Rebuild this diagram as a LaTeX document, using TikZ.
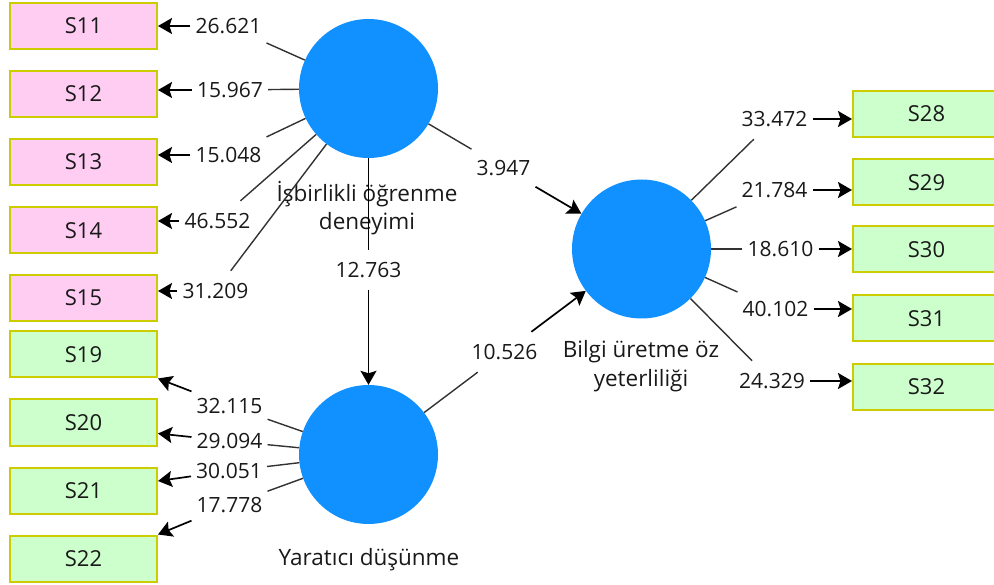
\documentclass[tikz,border=0pt]{standalone}
\usepackage{fontspec}
\setmainfont{Open Sans}
\usetikzlibrary{arrows.meta}

\definecolor{lvblue}{RGB}{17,145,255}
\definecolor{pinkfill}{RGB}{255,204,242}
\definecolor{greenfill}{RGB}{204,255,204}
\definecolor{boxedge}{RGB}{204,204,0}
\definecolor{pathgray}{RGB}{50,50,50}
\definecolor{txt}{RGB}{25,25,25}

\begin{document}
\begin{tikzpicture}[x=1pt,y=-1pt,
  font=\fontsize{21}{28}\selectfont,
  latent/.style={circle,fill=lvblue,minimum size=139pt,inner sep=0pt},
  ind/.style={rectangle,draw=boxedge,line width=2pt,minimum width=147pt,minimum height=46pt,inner sep=0pt,text=txt,font=\fontsize{22}{28}\selectfont},
  indA/.style={ind,fill=pinkfill},
  indB/.style={ind,fill=greenfill},
  wt/.style={inner xsep=5pt,inner ysep=0pt,minimum height=40pt,text=txt},
  lvname/.style={align=center,text=txt,font=\fontsize{22.5}{28.5}\selectfont},
  link/.style={draw=pathgray,line width=1.4pt},
  pointer/.style={draw=black,line width=1.7pt,-{Stealth[length=14pt,width=16pt,inset=2.5pt]}},
]
\useasboundingbox (0,0) rectangle (994,585);

% latent variables
\node[latent] (ce) at (368.5,88.5) {};
\node[latent] (cy) at (368.5,454.5) {};
\node[latent] (cb) at (641.5,249) {};

\node[lvname] (ne) at (367,208) {İşbirlikli öğrenme\\deneyimi};
\node[lvname] (ny) at (369,560) {Yaratıcı düşünme};
\node[lvname] (nb) at (641,366) {Bilgi üretme öz\\yeterliliği};

% indicator boxes, left column
\node[indA] (b11) at (83.5,26) {S11};
\node[indA] (b12) at (83.5,94) {S12};
\node[indA] (b13) at (83.5,162) {S13};
\node[indA] (b14) at (83.5,230.5) {S14};
\node[indA] (b15) at (83.5,298) {S15};
\node[indB] (b19) at (83.5,354.5) {S19};
\node[indB] (b20) at (83.5,422.5) {S20};
\node[indB] (b21) at (83.5,491) {S21};
\node[indB] (b22) at (83.5,558.5) {S22};

% indicator boxes, right column
\node[indB] (b28) at (926.5,114) {S28};
\node[indB] (b29) at (926.5,182.5) {S29};
\node[indB] (b30) at (926.5,249.5) {S30};
\node[indB] (b31) at (926.5,318.5) {S31};
\node[indB] (b32) at (926.5,387) {S32};

% t-values
\node[wt] (l11) at (228.5,26) {26.621};
\node[wt] (l12) at (230,90) {15.967};
\node[wt] (l13) at (228.5,155) {15.048};
\node[wt] (l14) at (217.5,221) {46.552};
\node[wt] (l15) at (215.5,291) {31.209};
\node[wt] (l19) at (229.5,406) {32.115};
\node[wt] (l20) at (229.5,441) {29.094};
\node[wt] (l21) at (229,471) {30.051};
\node[wt] (l22) at (229.5,505) {17.778};
\node[wt] (l28) at (774.5,119) {33.472};
\node[wt] (l29) at (774.5,190) {21.784};
\node[wt] (l30) at (780.5,249) {18.610};
\node[wt] (l31) at (775.5,309) {40.102};
\node[wt] (l32) at (772,381) {24.329};
\node[wt] (lee) at (368.5,270) {12.763};
\node[wt] (leb) at (503.5,168) {3.947};
\node[wt] (lyb) at (504.5,352) {10.526};

% outer loadings of the first construct
\foreach \i in {11,12,13,14,15}{
  \draw[link] (ce) -- (l\i);
  \draw[pointer] (l\i) -- (b\i.east |- l\i);
}

% outer loadings of the second construct
\foreach \i in {19,20,21,22}{
  \draw[link] (cy) -- (l\i);
}
\draw[pointer] (l19) -- (b19.south east);
\draw[pointer] (l20) -- ([yshift=-11pt]b20.east);
\draw[pointer] (l21) -- ([yshift=10pt]b21.east);
\draw[pointer] (l22) -- (b22.north east);

% outer loadings of the third construct
\foreach \i in {28,29,30,31,32}{
  \draw[link] (cb) -- (l\i);
  \draw[pointer] (l\i) -- (b\i.west |- l\i);
}

% structural paths
\draw[link,draw=black] (ce) -- (lee);
\draw[pointer] (lee) -- (cy);
\draw[link] (ce) -- (leb);
\draw[pointer] (leb) -- (cb);
\draw[link] (cy) -- (lyb);
\draw[pointer] (lyb) -- (cb);
\end{tikzpicture}
\end{document}
